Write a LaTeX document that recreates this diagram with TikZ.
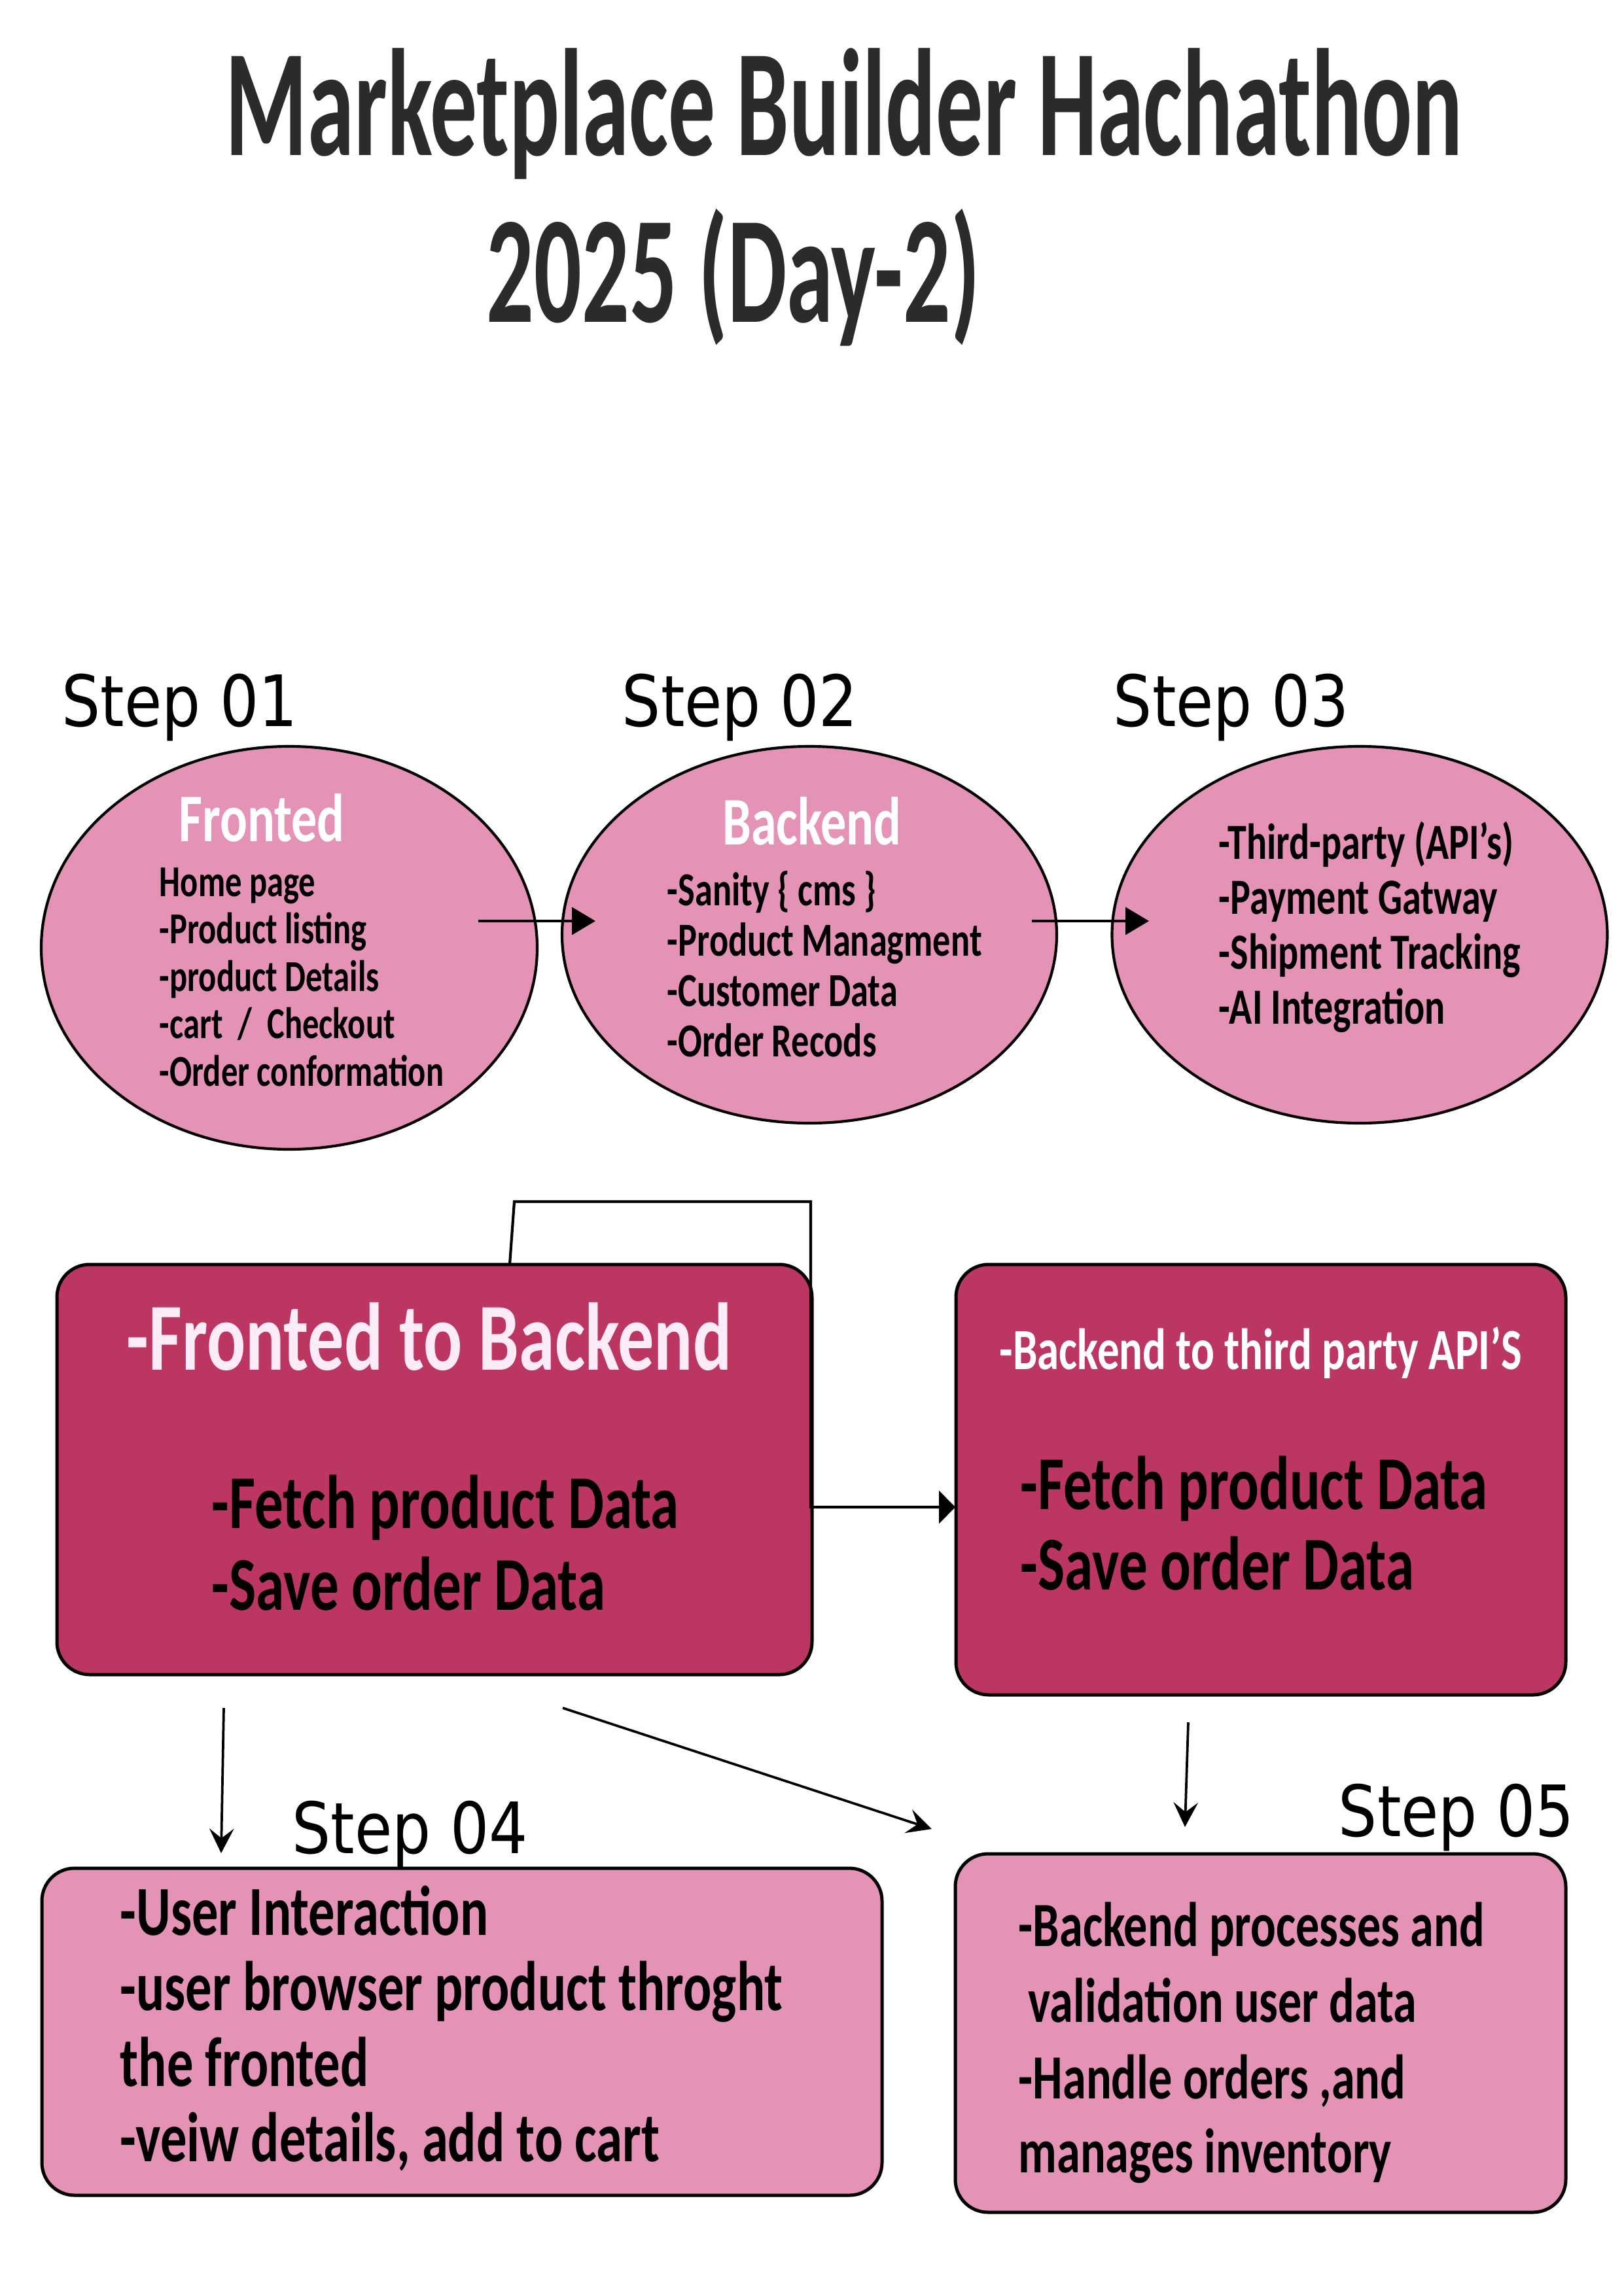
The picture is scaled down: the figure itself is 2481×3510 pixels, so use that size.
\documentclass[tikz,border=0pt]{standalone}
\usepackage{fontspec}
\usetikzlibrary{shapes.geometric,arrows.meta}
\setmainfont{Carlito}
\newfontfamily\bodyfont[FakeStretch=0.75]{Carlito}
\newfontfamily\titlefont[FakeStretch=0.615]{Carlito}
\newfontfamily\stepfont[FakeStretch=0.86]{DejaVu Sans}
\newcommand{\PX}{*0.24pt}
\definecolor{elpink}{RGB}{228,147,183}
\definecolor{boxred}{RGB}{188,54,98}
\definecolor{titlegray}{RGB}{43,43,43}
\definecolor{lightpink}{RGB}{253,236,247}
\tikzset{
  ell/.style={ellipse, draw=black, line width=1pt, fill=elpink, inner sep=0pt},
  darkbox/.style={rectangle, rounded corners=12pt, draw=black, line width=1.2pt, fill=boxred, inner sep=0pt},
  pinkbox/.style={rectangle, rounded corners=12pt, draw=black, line width=1.2pt, fill=elpink, inner sep=0pt},
  txt/.style={anchor=base west, inner sep=0pt, text=black},
  steplbl/.style={anchor=base west, inner sep=0pt, font={\stepfont\fontsize{26}{30}\selectfont}},
  conn/.style={line width=1pt, draw=black},
  tri/.style={-{Triangle[length=8.6pt,width=10pt]}},
  slim/.style={-{Stealth[length=9pt,width=9pt,inset=3.5pt]}}
}
\begin{document}
\begin{tikzpicture}[x=0.24pt,y=-0.24pt]
\useasboundingbox[fill=white] (0,0) rectangle (2481,3510);

% Title
\node[txt, text=titlegray, font={\titlefont\bfseries\fontsize{56}{60}\selectfont}] (title1) at (344,238) {Marketplace Builder Hachathon};
\node[txt, text=titlegray, font={\titlefont\bfseries\fontsize{56}{60}\selectfont}] (title2) at (743,493) {2025 (Day-2)};

% Step labels
\node[steplbl] (s1) at (94,1110) {Step 01};
\node[steplbl] (s2) at (950,1110) {Step 02};
\node[steplbl] (s3) at (1701,1110) {Step 03};
\node[steplbl] (s4) at (446,2833) {Step 04};
\node[steplbl] (s5) at (2045,2807) {Step 05};

% Ellipses
\node[ell, minimum width=758\PX, minimum height=616\PX] (e1) at (442,1449) {};
\node[ell, minimum width=756\PX, minimum height=576\PX] (e2) at (1237,1429) {};
\node[ell, minimum width=757\PX, minimum height=576\PX] (e3) at (2078,1429) {};

\node[anchor=base, inner sep=0pt, text=white, font={\bodyfont\bfseries\fontsize{25}{30}\selectfont}] (e1h) at (400,1286) {Fronted};
\foreach \t [count=\i] in {Home page,-Product listing,-product Details,{-cart~~/~~Checkout},-Order conformation}
  \node[txt, font={\bodyfont\bfseries\fontsize{16.2}{19}\selectfont}] (e1t\i) at (243,{1370+72.5*(\i-1)}) {\t};

\node[anchor=base, inner sep=0pt, text=white, font={\bodyfont\bfseries\fontsize{25}{30}\selectfont}] (e2h) at (1241,1291) {Backend};
\foreach \t [count=\i] in {{-Sanity \{ cms \}},-Product Managment,-Customer Data,-Order Recods}
  \node[txt, font={\bodyfont\bfseries\fontsize{17.4}{20}\selectfont}] (e2t\i) at (1019,{1384+77*(\i-1)}) {\t};

\foreach \t [count=\i] in {-Third-party (API’s),-Payment Gatway,-Shipment Tracking,-AI Integration}
  \node[txt, font={\bodyfont\bfseries\fontsize{18.6}{22}\selectfont}] (e3t\i) at (1862,{1313+84*(\i-1)}) {\t};

% Ellipse connectors
\coordinate (a1s) at (731,1408);
\coordinate (a1e) at (910,1408);
\coordinate (a2s) at (1577,1408);
\coordinate (a2e) at (1756,1408);
\draw[conn, tri] (a1s) -- (a1e);
\draw[conn, tri] (a2s) -- (a2e);

% Dark boxes
\node[darkbox, minimum width=1154\PX, minimum height=627\PX] (b1) at (664,2246.5) {};
\node[anchor=base, inner sep=0pt, text=lightpink, font={\bodyfont\bfseries\fontsize{35.3}{40}\selectfont}] (b1h) at (656,2094) {-Fronted to Backend};
\node[txt, font={\bodyfont\bfseries\fontsize{27.9}{32}\selectfont}] (b1t1) at (323,2336) {-Fetch product Data};
\node[txt, font={\bodyfont\bfseries\fontsize{27.9}{32}\selectfont}] (b1t2) at (323,2461) {-Save order Data};

\node[darkbox, minimum width=932\PX, minimum height=658\PX] (b2) at (1927,2262) {};
\node[anchor=base, inner sep=0pt, text=white, font={\bodyfont\bfseries\fontsize{21.4}{25}\selectfont}] (b2h) at (1927,2093) {-Backend to third party API’S};
\node[txt, font={\bodyfont\bfseries\fontsize{27.9}{32}\selectfont}] (b2t1) at (1559,2307) {-Fetch product Data};
\node[txt, font={\bodyfont\bfseries\fontsize{27.9}{32}\selectfont}] (b2t2) at (1559,2430) {-Save order Data};

% Elbow connector from box 1 to box 2
\coordinate (c1a) at (779,1933);
\coordinate (c1b) at (786,1837);
\coordinate (c1c) at (1239,1837);
\coordinate (c1d) at (1239,2304);
\coordinate (c1e) at (1460,2304);
\draw[line width=1pt, -{Triangle[length=6pt,width=12pt]}] (c1a) -- (c1b) -- (c1c) -- (c1d) -- (c1e);

% Pink boxes
\node[pinkbox, minimum width=1284\PX, minimum height=500\PX] (b4) at (706,3106) {};
\foreach \t [count=\i] in {-User Interaction,-user browser product throght,the fronted,{-veiw details, add to cart}}
  \node[txt, font={\bodyfont\bfseries\fontsize{25.8}{30}\selectfont}] (b4t\i) at (183,{2958+115.5*(\i-1)}) {\t};

\node[pinkbox, minimum width=933\PX, minimum height=548\PX] (b5) at (1926.5,3108) {};
\node[txt, font={\bodyfont\bfseries\fontsize{23.1}{28}\selectfont}] (b5t1) at (1556,2975) {-Backend processes and};
\node[txt, font={\bodyfont\bfseries\fontsize{23.1}{28}\selectfont}] (b5t2) at (1571,3091) {validation user data};
\node[txt, font={\bodyfont\bfseries\fontsize{23.1}{28}\selectfont}] (b5t3) at (1556,3208) {-Handle orders ,and};
\node[txt, font={\bodyfont\bfseries\fontsize{23.1}{28}\selectfont}] (b5t4) at (1556,3321) {manages inventory};

% Lower connectors
\coordinate (d1s) at (342,2611);
\coordinate (d1e) at (338,2833);
\coordinate (d2s) at (860,2611);
\coordinate (d2e) at (1424,2796);
\coordinate (d3s) at (1816,2633);
\coordinate (d3e) at (1811,2793);
\draw[line width=0.9pt, slim] (d1s) -- (d1e);
\draw[line width=0.9pt, slim] (d2s) -- (d2e);
\draw[line width=0.9pt, slim] (d3s) -- (d3e);
\end{tikzpicture}
\end{document}
